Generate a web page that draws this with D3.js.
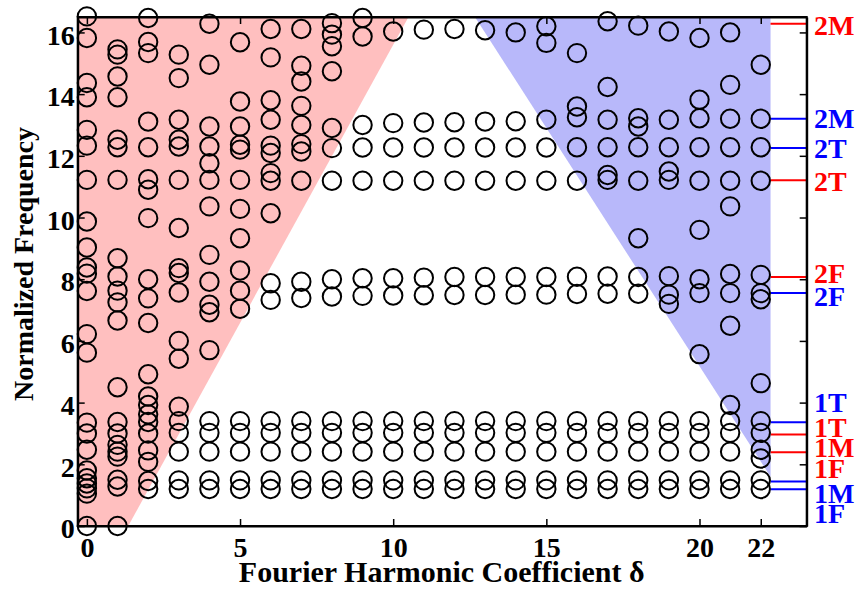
<!DOCTYPE html>
<html>
<head>
<meta charset="utf-8">
<script src="https://cdn.jsdelivr.net/npm/d3@7"></script>
<style>
  html, body { margin: 0; padding: 0; background: #fff; }
  svg { display: block; }
  text { font-family: "Liberation Serif", "Times New Roman", serif; font-weight: bold; }
</style>
</head>
<body>
<svg id="chart" width="860" height="592"></svg>
<script>
// ---------------- data ----------------
const deltas = d3.range(0, 23);
const xTicks = [0, 5, 10, 15, 20, 22];
const yTicks = [0, 2, 4, 6, 8, 10, 12, 14, 16];

// normalized frequencies at each Fourier harmonic coefficient (index = delta)
const freqs = [
  [16.52, 15.82, 14.36, 13.9, 12.84, 12.33, 11.22, 9.87, 9.03, 8.38, 8.18, 7.62, 6.22, 5.62, 3.35, 3.0, 2.47, 1.8, 1.55, 1.38, 1.22, 1.05, 0],
  [15.45, 15.28, 14.57, 13.9, 12.52, 12.28, 11.22, 8.68, 8.09, 7.63, 7.25, 6.66, 4.5, 3.37, 3.0, 2.63, 2.41, 2.25, 1.5, 1.28, 0],
  [16.47, 15.69, 15.33, 13.11, 12.28, 11.24, 10.9, 9.98, 8.0, 7.38, 6.58, 4.92, 4.2, 3.92, 3.62, 3.37, 3.0, 2.45, 2.08, 1.46, 1.2],
  [15.28, 14.52, 13.17, 12.52, 12.3, 11.22, 9.66, 8.36, 8.2, 7.57, 6.0, 5.42, 3.87, 3.4, 3.02, 2.41, 1.48, 1.2],
  [16.28, 14.95, 12.95, 12.3, 11.76, 11.22, 10.36, 8.79, 7.92, 7.17, 6.93, 5.7, 3.4, 3.02, 2.41, 1.48, 1.2],
  [15.68, 13.76, 12.95, 12.36, 12.2, 11.22, 10.28, 9.33, 8.28, 7.63, 7.04, 3.4, 3.02, 2.41, 1.48, 1.2],
  [16.11, 15.19, 13.8, 13.17, 12.33, 12.09, 11.44, 11.19, 10.14, 7.87, 7.33, 3.4, 3.02, 2.41, 1.48, 1.2],
  [16.11, 14.92, 14.41, 13.62, 13.0, 12.38, 12.14, 11.19, 7.92, 7.39, 3.4, 3.02, 2.41, 1.48, 1.2],
  [16.3, 15.93, 15.55, 14.74, 12.9, 12.25, 11.19, 8.0, 7.44, 3.4, 3.02, 2.41, 1.48, 1.2],
  [16.47, 15.87, 13.0, 12.27, 11.19, 8.03, 7.46, 3.4, 3.02, 2.41, 1.48, 1.2],
  [16.03, 13.06, 12.27, 11.19, 8.03, 7.47, 3.4, 3.02, 2.41, 1.48, 1.2],
  [16.09, 13.08, 12.27, 11.19, 8.05, 7.48, 3.4, 3.02, 2.41, 1.48, 1.2],
  [16.11, 13.09, 12.27, 11.19, 8.07, 7.49, 3.4, 3.02, 2.41, 1.48, 1.2],
  [16.07, 13.11, 12.27, 11.19, 8.07, 7.49, 3.4, 3.02, 2.41, 1.48, 1.2],
  [16.0, 13.12, 12.27, 11.19, 8.07, 7.5, 3.4, 3.02, 2.41, 1.48, 1.2],
  [16.2, 15.66, 13.17, 12.27, 11.19, 8.07, 7.5, 3.4, 3.02, 2.41, 1.48, 1.2],
  [15.33, 13.6, 13.25, 12.28, 11.19, 8.08, 7.52, 3.4, 3.02, 2.41, 1.48, 1.2],
  [16.36, 14.23, 13.17, 12.28, 11.38, 11.22, 8.09, 7.53, 3.4, 3.02, 2.41, 1.48, 1.2],
  [16.22, 13.22, 12.95, 12.28, 11.19, 9.33, 8.07, 7.53, 3.4, 3.02, 2.41, 1.48, 1.2],
  [16.03, 13.17, 12.28, 11.49, 11.22, 8.1, 7.5, 7.2, 3.4, 3.02, 2.41, 1.48, 1.2],
  [15.82, 13.82, 13.22, 12.28, 11.19, 9.6, 8.0, 7.55, 5.57, 3.4, 3.02, 2.41, 1.48, 1.2],
  [16.0, 14.3, 13.2, 12.28, 11.19, 10.36, 8.17, 7.55, 6.49, 3.92, 3.4, 3.02, 2.41, 1.48, 1.2],
  [14.95, 13.2, 12.28, 11.19, 8.14, 7.55, 7.35, 4.63, 3.4, 3.02, 2.47, 2.19, 1.48, 1.2]
];

// shaded regions (delta, frequency)
const redRegion = [[-0.3, 0], [1.35, 0], [10.5, 16.5], [-0.3, 16.5]];
const blueRegion = [[12.67, 16.5], [22.32, 16.5], [22.32, 1.6]];

// reference mode lines on the right
const refValues = [16.28, 13.2, 12.25, 11.21, 8.07, 7.55, 3.36, 2.97, 2.39, 1.44, 1.19];
const refColors = ["red", "blue", "blue", "red", "red", "blue", "blue", "red", "red", "blue", "blue"];
const refStart = 22.32;

// right-hand labels
const labelTexts = ["2M", "2M", "2T", "2T", "2F", "2F", "1T", "1T", "1M", "1F", "1M", "1F"];
const labelColors = ["red", "blue", "blue", "red", "red", "blue", "blue", "red", "red", "red", "blue", "blue"];
const labelValues = [16.22, 13.2, 12.23, 11.16, 8.2, 7.43, 3.99, 3.2, 2.56, 1.85, 1.04, 0.39];

const xTitle = "Fourier Harmonic Coefficient δ";
const yTitle = "Normalized Frequency";

// ---------------- drawing ----------------
const pLeft = 77.7, pRight = 806.7, pTop = 17, pBottom = 526;
const x = d3.scaleLinear().domain([-0.3, 23.5]).range([pLeft, pRight]);
const y = d3.scaleLinear().domain([0, 16.5]).range([pBottom, pTop]);

const colorMap = { red: "#ff0000", blue: "#0000ff" };
const svg = d3.select("#chart");

const lineGen = d3.line().x(d => x(d[0])).y(d => y(d[1]));
svg.append("path").attr("d", lineGen(redRegion) + "Z").attr("fill", "#ffbfbf");
svg.append("path").attr("d", lineGen(blueRegion) + "Z").attr("fill", "#b8b8fa");

// reference lines
svg.append("g").selectAll("line").data(refValues).join("line")
  .attr("x1", x(refStart)).attr("x2", pRight)
  .attr("y1", d => y(d)).attr("y2", d => y(d))
  .attr("stroke", (d, i) => colorMap[refColors[i]])
  .attr("stroke-width", 2);

// axes
const fs = 28;
const axB = svg.append("g").attr("transform", `translate(0,${pBottom})`)
  .call(d3.axisBottom(x).tickValues(xTicks).tickSizeInner(-7).tickSizeOuter(0).tickPadding(11));
const axT = svg.append("g").attr("transform", `translate(0,${pTop})`)
  .call(d3.axisTop(x).tickValues(xTicks).tickSizeInner(-7).tickSizeOuter(0).tickFormat(""));
const axL = svg.append("g").attr("transform", `translate(${pLeft},0)`)
  .call(d3.axisLeft(y).tickValues(yTicks).tickSizeInner(-7).tickSizeOuter(0).tickPadding(3));
const axR = svg.append("g").attr("transform", `translate(${pRight},0)`)
  .call(d3.axisRight(y).tickValues(yTicks).tickSizeInner(-7).tickSizeOuter(0).tickFormat(""));

[axB, axT, axL, axR].forEach(a => {
  a.select(".domain").attr("stroke", "#000").attr("stroke-width", 2);
  a.selectAll(".tick line").attr("stroke", "#000").attr("stroke-width", 1.5);
  a.selectAll(".tick text")
    .attr("font-family", '"Liberation Serif", serif')
    .attr("font-weight", "bold").attr("font-size", fs).attr("fill", "#000");
});
axB.selectAll(".tick text").attr("dy", "0.71em");
axL.selectAll(".tick text").attr("dy", "0.42em");

// frame
svg.append("rect").attr("x", pLeft).attr("y", pTop)
  .attr("width", pRight - pLeft).attr("height", pBottom - pTop)
  .attr("fill", "none").attr("stroke", "#000").attr("stroke-width", 2);

// circles
const pts = [];
freqs.forEach((col, i) => col.forEach(v => pts.push([deltas[i], v])));
svg.append("g").selectAll("circle").data(pts).join("circle")
  .attr("cx", d => x(d[0])).attr("cy", d => y(d[1]))
  .attr("r", 9.2)
  .attr("fill", "none").attr("stroke", "#000").attr("stroke-width", 2);

// right labels
svg.append("g").selectAll("text").data(labelTexts).join("text")
  .attr("x", 814).attr("y", (d, i) => y(labelValues[i]))
  .attr("dy", "0.34em")
  .attr("font-size", 28)
  .attr("fill", (d, i) => colorMap[labelColors[i]])
  .text(d => d);

// titles
svg.append("text").attr("x", 441.7).attr("y", 582)
  .attr("text-anchor", "middle").attr("font-size", 30).text(xTitle);
svg.append("text")
  .attr("transform", "translate(33,264) rotate(-90)")
  .attr("text-anchor", "middle").attr("font-size", 28).text(yTitle);
</script>
</body>
</html>
